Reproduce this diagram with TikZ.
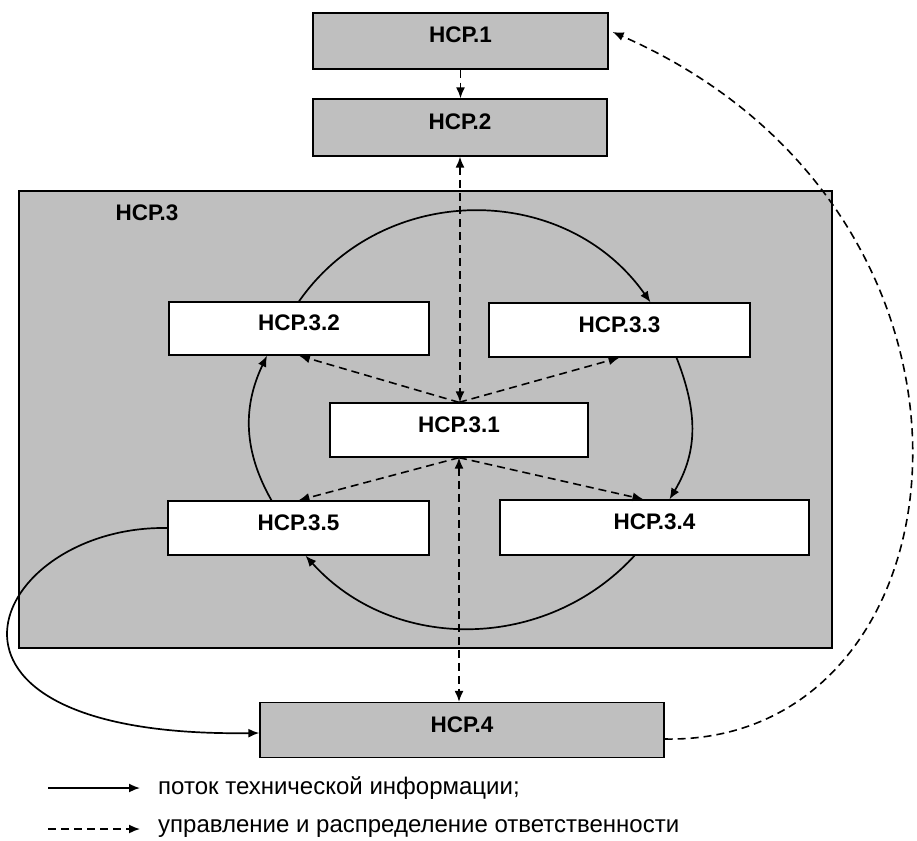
\documentclass[tikz,border=0pt]{standalone}
\usepackage{fontspec}
\setmainfont{Liberation Sans}
\usetikzlibrary{arrows.meta}
\tikzset{
    unit/.style={draw, line width=1.3pt, inner sep=0pt, font=\fontsize{22.5}{27}\selectfont\bfseries, text height=16pt, text depth=12pt},
    greybox/.style={unit, fill=black!25},
    whitebox/.style={unit, fill=white},
    flow/.style={line width=1.7pt, ->},
    ctrl/.style={line width=1.6pt, dash pattern=on 8pt off 5pt, ->},
    legendtext/.style={anchor=west, inner xsep=18pt, font=\fontsize{24}{28}\selectfont},
}
\begin{document}
\begin{tikzpicture}[x=1pt, y=-1pt, >={Latex[length=11pt,width=9pt]}]
\useasboundingbox (0,0) rectangle (917,840);
\node[draw, line width=1.3pt, fill=black!25, minimum width=813pt, minimum height=457pt] (n3) at (425.5,419.5) {};
\node[font=\fontsize{22.5}{27}\selectfont\bfseries] (n3t) at (147,213) {НСР.3};
\node[greybox, minimum width=295pt, minimum height=56pt] (n1) at (460.5,41) {НСР.1};
\node[greybox, minimum width=294pt, minimum height=57pt] (n2) at (460,127.5) {НСР.2};
\node[whitebox, minimum width=260pt, minimum height=53pt] (n32) at (299,328.5) {НСР.3.2};
\node[whitebox, minimum width=261pt, minimum height=54pt] (n33) at (619.5,330) {НСР.3.3};
\node[whitebox, minimum width=258pt, minimum height=54pt] (n31) at (459,430) {НСР.3.1};
\node[whitebox, minimum width=261pt, minimum height=54pt] (n35) at (298.5,528) {НСР.3.5};
\node[whitebox, minimum width=309pt, minimum height=55pt] (n34) at (654.5,527.5) {НСР.3.4};
\node[greybox, minimum width=404pt, minimum height=55pt] (n4) at (462,730) {НСР.4};
\draw[ctrl] (n1.south) -- (n1.south |- n2.north);
\draw[ctrl, <->] (n2.south) -- (n2.south |- n31.north);
\draw[ctrl, <->] (n31.south) -- (n31.south |- n4.north);
\draw[ctrl] (n31.north) -- (n32.south);
\draw[ctrl] (n31.north) -- (n33.south);
\draw[ctrl] (n31.south) -- (n35.north);
\draw[ctrl] (n31.south) -- ([xshift=-11pt]n34.north);
\draw[flow] (n32.north) .. controls (383,181) and (565,181) .. ([xshift=31pt]n33.north);
\draw[flow] ([xshift=57pt]n33.south) .. controls (697,410) and (699,450) .. ([xshift=15pt]n34.north);
\draw[flow] ([xshift=-20pt]n34.south) .. controls (546,652) and (393,653) .. ([xshift=7pt]n35.south);
\draw[flow] ([xshift=-27pt]n35.north) .. controls (244,452) and (242,408) .. ([xshift=-32pt]n32.south);
\draw[flow] (n35.west) .. controls (-10,525) and (-110,738) .. ([yshift=-3pt]n4.west);
\draw[ctrl] ([yshift=-9pt]n4.east) .. controls (975,745) and (1030,215) .. ([shift={(4pt,9pt)}]n1.east);
\coordinate (k1) at (48,788);
\node[legendtext] (t1) at (140,788) {поток технической информации;};
\draw[flow] (k1) -- (t1.west);
\coordinate (k2) at (48,829);
\node[legendtext] (t2) at (140,829) {управление и распределение ответственности};
\draw[ctrl] (k2) -- (t2.west);
\end{tikzpicture}
\end{document}
